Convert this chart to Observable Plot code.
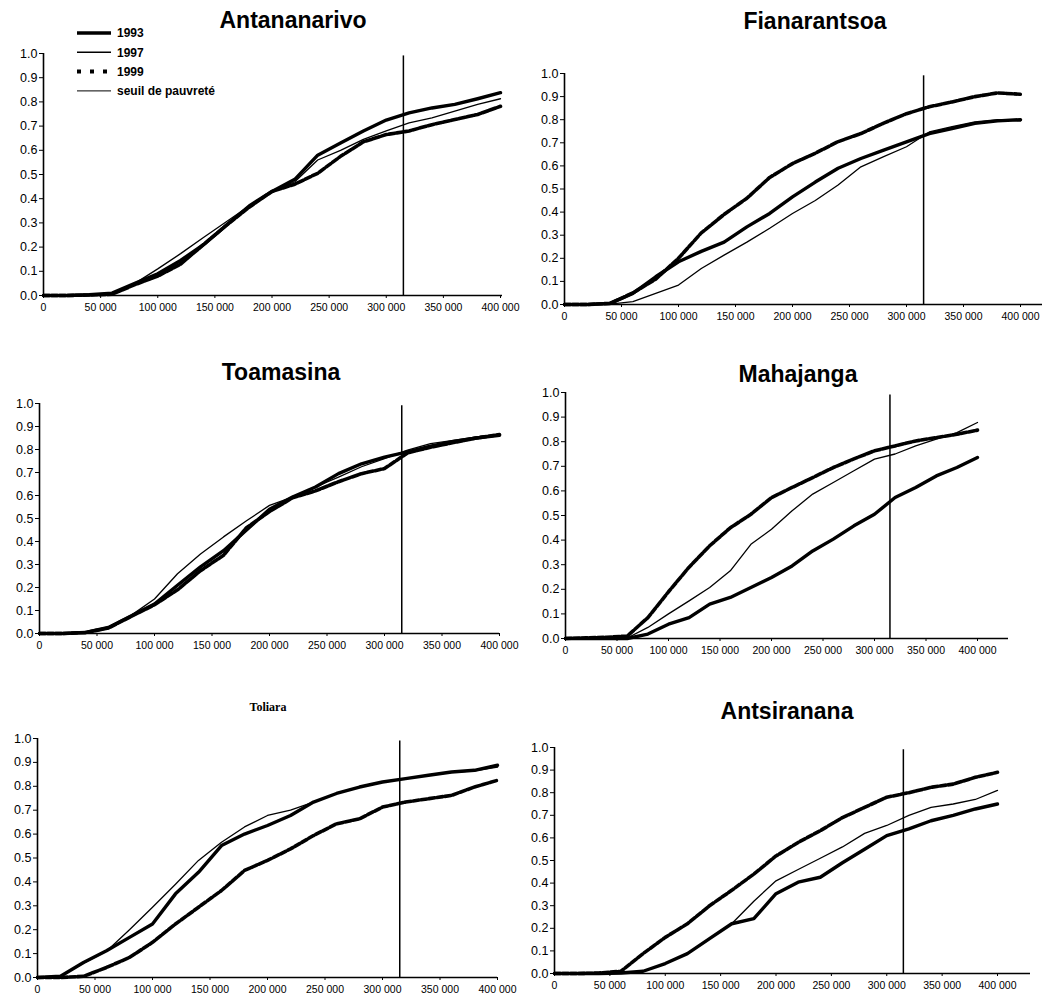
<!DOCTYPE html>
<html>
<head>
<meta charset="utf-8">
<script src="https://cdn.jsdelivr.net/npm/d3@7"></script>
<script src="https://cdn.jsdelivr.net/npm/@observablehq/plot@0.6"></script>
<style>
  html, body { margin: 0; padding: 0; background: #fff; overflow: hidden; }
  #root { position: relative; width: 1042px; height: 1007px; font-family: "Liberation Sans", Arial, sans-serif; }
  .panel { position: absolute; overflow: visible; }
  .title { position: absolute; transform: translate(-50%, -50%); white-space: nowrap; color: #000; }
</style>
</head>
<body>
<div id="root"></div>
<script>
// ---------------- DATA ----------------
const incomes = [0, 20000, 40000, 60000, 80000, 100000, 120000, 140000, 160000, 180000, 200000,
                 220000, 240000, 260000, 280000, 300000, 320000, 340000, 360000, 380000, 400000];
const years = ["1993", "1997", "1999"];
const regions = ["Antananarivo", "Fianarantsoa", "Toamasina", "Mahajanga", "Toliara", "Antsiranana"];
const seuilPauvrete = 315000;
const xTicks = [0, 50000, 100000, 150000, 200000, 250000, 300000, 350000, 400000];
const yTicks = [0, 0.1, 0.2, 0.3, 0.4, 0.5, 0.6, 0.7, 0.8, 0.9, 1.0];
const legendLabels = ["1993", "1997", "1999", "seuil de pauvreté"];

const antananarivo1993 = [0, 0, 0.003, 0.01, 0.05, 0.09, 0.145, 0.21, 0.29, 0.37, 0.43, 0.48, 0.58, 0.63, 0.68, 0.725, 0.755, 0.775, 0.79, 0.813, 0.838];
const antananarivo1997 = [0, 0, 0.003, 0.01, 0.05, 0.11, 0.173, 0.24, 0.305, 0.37, 0.43, 0.47, 0.56, 0.60, 0.645, 0.68, 0.713, 0.734, 0.762, 0.79, 0.813];
const antananarivo1999 = [0, 0, 0.002, 0.005, 0.045, 0.08, 0.13, 0.21, 0.29, 0.365, 0.43, 0.46, 0.505, 0.575, 0.635, 0.665, 0.68, 0.706, 0.727, 0.748, 0.782];

const fianarantsoa1993 = [0, 0, 0.005, 0.048, 0.12, 0.185, 0.23, 0.27, 0.336, 0.394, 0.466, 0.53, 0.59, 0.632, 0.668, 0.704, 0.74, 0.762, 0.784, 0.795, 0.80];
const fianarantsoa1997 = [0, 0, 0.002, 0.012, 0.048, 0.084, 0.156, 0.214, 0.27, 0.33, 0.394, 0.45, 0.517, 0.596, 0.64, 0.683, 0.747, 0.77, 0.79, 0.80, 0.795];
const fianarantsoa1999 = [0, 0, 0.005, 0.05, 0.11, 0.20, 0.31, 0.39, 0.46, 0.55, 0.61, 0.655, 0.705, 0.74, 0.785, 0.826, 0.856, 0.877, 0.90, 0.916, 0.91];

const toamasina1993 = [0, 0, 0.005, 0.026, 0.077, 0.128, 0.21, 0.29, 0.36, 0.45, 0.54, 0.593, 0.637, 0.695, 0.738, 0.767, 0.79, 0.815, 0.835, 0.85, 0.862];
const toamasina1997 = [0, 0, 0.005, 0.028, 0.08, 0.15, 0.26, 0.346, 0.42, 0.49, 0.557, 0.593, 0.637, 0.68, 0.725, 0.76, 0.797, 0.826, 0.84, 0.855, 0.865];
const toamasina1999 = [0, 0, 0.004, 0.024, 0.075, 0.125, 0.19, 0.273, 0.34, 0.46, 0.53, 0.59, 0.62, 0.66, 0.695, 0.717, 0.785, 0.81, 0.83, 0.85, 0.865];

const mahajanga1993 = [0, 0, 0, 0, 0.018, 0.058, 0.085, 0.14, 0.167, 0.207, 0.248, 0.295, 0.356, 0.404, 0.458, 0.505, 0.573, 0.614, 0.661, 0.695, 0.736];
const mahajanga1997 = [0, 0, 0, 0.002, 0.045, 0.10, 0.153, 0.207, 0.275, 0.383, 0.444, 0.519, 0.587, 0.634, 0.682, 0.729, 0.75, 0.783, 0.81, 0.837, 0.878];
const mahajanga1999 = [0, 0.003, 0.005, 0.01, 0.085, 0.19, 0.29, 0.377, 0.45, 0.505, 0.573, 0.614, 0.654, 0.695, 0.73, 0.763, 0.783, 0.803, 0.817, 0.83, 0.847];

const toliara1993 = [0, 0.005, 0.063, 0.112, 0.168, 0.224, 0.35, 0.44, 0.552, 0.60, 0.636, 0.678, 0.734, 0.77, 0.797, 0.818, 0.832, 0.846, 0.86, 0.867, 0.888];
const toliara1997 = [0, 0.005, 0.06, 0.11, 0.20, 0.294, 0.39, 0.49, 0.566, 0.63, 0.678, 0.70, 0.734, 0.77, 0.797, 0.818, 0.832, 0.846, 0.858, 0.865, 0.88];
const toliara1999 = [0, 0, 0.005, 0.042, 0.084, 0.147, 0.224, 0.294, 0.364, 0.448, 0.49, 0.538, 0.594, 0.643, 0.664, 0.713, 0.734, 0.748, 0.762, 0.797, 0.825];

const antsiranana1993 = [0, 0, 0, 0.002, 0.01, 0.044, 0.088, 0.154, 0.22, 0.243, 0.353, 0.404, 0.426, 0.49, 0.55, 0.61, 0.64, 0.676, 0.70, 0.728, 0.75];
const antsiranana1997 = [0, 0, 0, 0.002, 0.01, 0.044, 0.088, 0.154, 0.22, 0.32, 0.41, 0.46, 0.51, 0.56, 0.62, 0.655, 0.70, 0.735, 0.75, 0.77, 0.81];
const antsiranana1999 = [0, 0, 0.002, 0.01, 0.088, 0.16, 0.22, 0.30, 0.368, 0.44, 0.52, 0.58, 0.632, 0.69, 0.735, 0.78, 0.80, 0.824, 0.838, 0.868, 0.89];

const seriesByRegion = {
  Antananarivo: [antananarivo1993, antananarivo1997, antananarivo1999],
  Fianarantsoa: [fianarantsoa1993, fianarantsoa1997, fianarantsoa1999],
  Toamasina: [toamasina1993, toamasina1997, toamasina1999],
  Mahajanga: [mahajanga1993, mahajanga1997, mahajanga1999],
  Toliara: [toliara1993, toliara1997, toliara1999],
  Antsiranana: [antsiranana1993, antsiranana1997, antsiranana1999]
};

// ---------------- LAYOUT (page pixel geometry) ----------------
const layout = {
  Antananarivo: {x0: 43, x400: 500, xEnd: 502, ytop: 53, ybot: 295, tx: 293, ty: 20, font: "bold 23px 'Liberation Sans', Arial, sans-serif"},
  Fianarantsoa: {x0: 564, x400: 1020, xEnd: 1042, ytop: 73, ybot: 304, tx: 815, ty: 21, font: "bold 23px 'Liberation Sans', Arial, sans-serif"},
  Toamasina:    {x0: 39, x400: 499, xEnd: 499, ytop: 403, ybot: 633, tx: 281, ty: 372, font: "bold 23px 'Liberation Sans', Arial, sans-serif"},
  Mahajanga:    {x0: 565, x400: 977, xEnd: 1008, ytop: 392, ybot: 638, tx: 798, ty: 374, font: "bold 23px 'Liberation Sans', Arial, sans-serif"},
  Toliara:      {x0: 37, x400: 497, xEnd: 497, ytop: 738, ybot: 977, tx: 268, ty: 707, font: "bold 12px 'Liberation Serif', 'Times New Roman', serif"},
  Antsiranana:  {x0: 554, x400: 997, xEnd: 1030, ytop: 747, ybot: 973, tx: 787, ty: 711, font: "bold 23px 'Liberation Sans', Arial, sans-serif"}
};

const styles = {
  "1993": {strokeWidth: 3.4, strokeDasharray: null},
  "1997": {strokeWidth: 1.3, strokeDasharray: null},
  "1999": {strokeWidth: 3.6, strokeDasharray: "6,2"}
};

const root = document.getElementById("root");
const fmtX = d => d3.format(",")(d).replace(/,/g, " ");
const fmtY = d3.format(".1f");

const mL = 42, mR = 36, mT = 10, mB = 30;

for (const region of regions) {
  const g = layout[region];
  const innerW = g.xEnd - g.x0;
  const innerH = g.ybot - g.ytop;
  const xmax = 400000 * (g.xEnd - g.x0) / (g.x400 - g.x0);
  const series = seriesByRegion[region];

  const lineMarks = years.map((yr, k) => {
    const rows = incomes.map((x, i) => ({x, y: series[k][i], year: yr}));
    const s = styles[yr];
    const opts = {x: "x", y: "y", stroke: "#000", strokeWidth: s.strokeWidth, strokeLinejoin: "round"};
    if (s.strokeDasharray) opts.strokeDasharray = s.strokeDasharray;
    return Plot.line(rows, opts);
  });

  const chart = Plot.plot({
    width: mL + innerW + mR,
    height: mT + innerH + mB,
    marginLeft: mL, marginRight: mR, marginTop: mT, marginBottom: mB,
    style: {fontFamily: "'Liberation Sans', Arial, sans-serif", background: "transparent", overflow: "visible", color: "#000"},
    x: {domain: [0, xmax], label: null},
    y: {domain: [0, 1], label: null},
    marks: [
      Plot.ruleX([seuilPauvrete], {y1: 0, y2: 0.99, stroke: "#000", strokeWidth: 1.5}),
      ...lineMarks,
      Plot.ruleY([0], {stroke: "#000", strokeWidth: 1.6}),
      Plot.ruleX([0], {y1: 0, y2: 1, stroke: "#000", strokeWidth: 1.6}),
      Plot.axisY(yTicks, {tickSize: 4, tickPadding: 2, fontSize: 12.5, tickFormat: fmtY, stroke: "#000", fill: "#000", label: null}),
      Plot.axisX(xTicks, {tickSize: 3, tickPadding: 5, fontSize: 10.5, tickFormat: fmtX, stroke: "#000", fill: "#000", label: null})
    ]
  });
  chart.classList.add("panel");
  chart.style.left = (g.x0 - mL) + "px";
  chart.style.top = (g.ytop - mT) + "px";
  root.appendChild(chart);

  const t = document.createElement("div");
  t.className = "title";
  t.textContent = region;
  t.style.font = g.font;
  t.style.left = g.tx + "px";
  t.style.top = g.ty + "px";
  root.appendChild(t);
}

// ---------------- LEGEND (panel 1) ----------------
const legend = d3.select(root).append("svg")
  .attr("width", 200).attr("height", 80)
  .style("position", "absolute").style("left", "70px").style("top", "22px");
const legendStyles = [
  {w: 3.4, dash: null}, {w: 1.5, dash: null}, {w: 4, dash: "4,9"}, {w: 1, dash: null}
];
legendLabels.forEach((lab, i) => {
  const y = 11 + i * 19.3;
  const ln = legend.append("line").attr("x1", 7).attr("x2", 41).attr("y1", y).attr("y2", y)
    .attr("stroke", "#000").attr("stroke-width", legendStyles[i].w);
  if (legendStyles[i].dash) ln.attr("stroke-dasharray", legendStyles[i].dash);
  legend.append("text").attr("x", 47).attr("y", y).attr("dy", "0.35em")
    .attr("font-family", "'Liberation Sans', Arial, sans-serif")
    .attr("font-size", 12).attr("font-weight", "bold").text(lab);
});
</script>
</body>
</html>
